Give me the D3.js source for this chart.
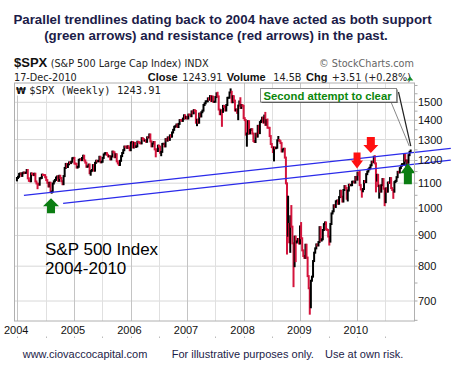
<!DOCTYPE html>
<html><head><meta charset="utf-8">
<script src="https://cdn.jsdelivr.net/npm/d3@7"></script>
<style>
html,body{margin:0;padding:0;background:#fff;}
svg{display:block;}
</style></head>
<body>
<svg id="chart" width="451" height="374"></svg>
<script>
// ---- DATA: weekly (Friday) closes of $SPX ----
const prevClose2003 = 1111.9;
const close2004 = [1121.9,1127.2,1139.8,1141.6,1131.1, 1142.8,1145.8,1144.1,1144.9, 1156.9,1120.6,1109.8,1108.1, 1141.8,1139.3,1134.6,1140.6,1107.3, 1098.7,1096.4,1093.6,1120.7, 1122.5,1136.5,1135.0,1134.4, 1125.4,1112.8,1101.4,1086.2,1101.7, 1064.0,1064.8,1098.6,1107.8, 1113.6,1123.9,1128.6,1110.1, 1131.5,1122.1,1108.2,1095.7,1130.2, 1166.2,1184.2,1170.3,1182.7, 1191.2,1188.0,1194.2,1210.1,1211.9];
const close2005 = [1186.2,1184.5,1167.9,1171.4, 1203.0,1205.3,1201.6,1211.4, 1222.1,1200.1,1190.2,1171.4, 1172.9,1181.2,1142.6,1152.1,1156.9, 1178.8,1154.0,1189.3,1198.8, 1196.0,1198.1,1217.0,1191.6, 1194.4,1211.9,1227.9,1233.7,1234.2, 1226.4,1219.0,1219.7,1205.1, 1218.3,1241.5,1237.9,1215.3,1228.8, 1195.9,1186.6,1179.6,1198.4, 1220.1,1234.7,1248.3,1265.6, 1265.1,1259.4,1267.3,1259.9,1248.3];
const close2006 = [1285.5,1287.6,1261.5,1283.7, 1264.0,1267.0,1289.4,1287.2, 1282.6,1281.4,1307.3,1303.0,1294.9, 1295.5,1289.1,1311.3,1310.6, 1325.8,1291.2,1267.0,1280.2, 1288.2,1252.3,1251.5,1244.5,1270.2, 1265.5,1236.2,1240.3,1278.6, 1279.4,1266.7,1302.3,1295.1, 1311.0,1298.9,1321.2,1314.8,1335.9, 1349.6,1365.6,1368.6,1377.3, 1364.3,1380.9,1401.2,1400.6, 1396.7,1409.1,1427.1,1410.8,1418.3];
const close2007 = [1409.7,1430.7,1430.5,1422.2, 1448.4,1438.1,1455.5,1451.2, 1387.2,1402.8,1387.0,1436.1,1420.9, 1443.8,1452.9,1484.4,1494.1, 1505.6,1505.9,1522.8,1515.7, 1536.3,1507.7,1532.9,1502.6,1503.4, 1530.4,1552.5,1534.1,1459.0, 1433.1,1453.6,1445.9,1479.4,1474.0, 1453.6,1484.3,1525.8,1526.8, 1557.6,1561.8,1500.6,1535.3, 1509.7,1453.7,1458.7,1440.7,1481.1, 1504.7,1468.0,1484.5,1478.5];
const close2008 = [1411.6,1401.0,1325.2,1330.6, 1395.4,1331.3,1349.0,1353.1,1330.6, 1293.4,1288.1,1329.5,1315.2, 1370.4,1332.8,1390.3,1397.8, 1413.9,1388.3,1425.4,1375.9,1400.4, 1360.7,1360.0,1317.9,1278.4, 1262.9,1239.5,1260.7,1257.8, 1260.3,1296.3,1298.2,1292.2,1282.8, 1242.3,1251.7,1255.1,1213.3, 1099.2,899.2,940.6,876.8,968.8, 931.0,873.3,800.0,896.2, 876.1,879.7,887.9,872.8];
const close2009 = [931.8,890.4,850.1,832.0,825.9, 868.6,826.8,770.1,735.1, 683.4,756.6,768.5,815.9, 842.5,856.6,869.6,866.2, 877.5,929.2,882.9,887.0,919.1, 940.1,946.2,921.2,918.9, 896.4,879.1,940.4,979.3,987.5, 1010.5,1004.1,1026.1,1028.9, 1016.4,1042.7,1068.3,1044.4, 1025.2,1071.5,1087.7,1079.6,1036.2, 1069.3,1093.5,1091.4,1091.5, 1106.0,1106.4,1102.5,1126.5];
const close2010 = [1115.1,1145.0,1136.0,1091.8,1073.9, 1066.2,1075.5,1109.2,1104.5, 1138.7,1150.0,1159.9,1166.6, 1178.1,1194.4,1192.1,1217.3,1186.7, 1110.9,1135.7,1087.7,1089.4, 1064.9,1091.6,1117.5,1076.8, 1022.6,1078.0,1064.9,1102.7,1101.6, 1121.6,1079.3,1071.7,1064.6, 1104.5,1109.6,1125.6,1148.7, 1146.2,1165.2,1176.2,1183.1,1183.3, 1225.9,1199.2,1199.7,1189.4, 1224.7,1240.4,1243.9];

// intraweek extremes that stick out beyond the open/close range
const wickLows = [["2004-05-14",1079.0],["2004-08-13",1060.7],["2005-04-22",1136.2],["2006-06-16",1219.3],["2006-07-21",1224.5],
  ["2007-03-09",1374.0],["2007-08-17",1370.6],["2007-11-30",1406.1],["2008-01-25",1270.1],["2008-03-20",1257.0],
  ["2008-07-18",1200.4],["2008-10-10",839.8],["2008-10-31",845.3],["2008-11-21",741.0],["2008-12-05",815.7],
  ["2009-03-06",666.8],["2009-07-10",869.3],["2009-11-06",1029.4],["2010-02-05",1044.5],["2010-05-07",1065.8],
  ["2010-05-28",1040.8],["2010-07-02",1010.9],["2010-08-27",1039.7],["2010-11-19",1173.0]];
const wickHighs = [["2007-07-20",1555.9],["2007-10-12",1576.1],["2007-12-14",1523.6],["2008-05-23",1440.2],["2008-06-06",1404.1],
  ["2008-08-15",1313.2],["2008-10-17",1044.3],["2008-11-07",1007.5],["2009-01-09",943.9],["2010-01-22",1150.5],
  ["2010-04-30",1219.8],["2010-11-05",1227.1],["2010-12-17",1246.7]];

const yTickValues = [700,800,900,1000,1100,1200,1300,1400,1500];
const yearLabels = ["2004","2005","2006","2007","2008","2009","2010"];

// drawn annotations (date, value)
const trendlines = [
  {from:["2004-02-12",1050], to:["2011-08-29",1257]},
  {from:["2004-10-22",1018], to:["2011-08-29",1202]}
];
const greenArrows = [{tip:["2004-08-05",1038], hw:16, hh:8, sw:8, sh:7},
                     {tip:["2010-11-25",1187], hw:15, hh:10, sw:8, sh:11}];
const redArrows = [{tip:["2010-01-01",1164], hw:12, hh:8, sw:7, sh:8},
                   {tip:["2010-03-31",1235], hw:15, hh:8, sw:8, sh:8}];
const calloutTarget = ["2010-12-17",1268];

// ---- CHART ----
const svg = d3.select("#chart");
const parse = d3.timeParse("%Y-%m-%d");
const fmt = d3.timeFormat("%Y-%m-%d");
const SANS = "'Liberation Sans', Arial, sans-serif";
const DV = "'DejaVu Sans', Verdana, sans-serif";

const plot = {left:14.5, right:414.5, top:83, bottom:321};
const x = d3.scaleTime().domain([new Date(2004,0,1), new Date(2011,0,1)]).range([17.4, 413.6]);
const y = d3.scaleLog().domain([700,1500]).range([301,102.3]);

const closes = [].concat(close2004, close2005, close2006, close2007, close2008, close2009, close2010);
const fridays = d3.timeFriday.range(new Date(2004,0,1), new Date(2010,11,18));
const lowMap = new Map(wickLows), highMap = new Map(wickHighs);
const bars = closes.map((c,i) => {
  const p = i ? closes[i-1] : prevClose2003;
  const key = fmt(fridays[i]);
  let hi = Math.max(p,c), lo = Math.min(p,c);
  if (highMap.has(key)) hi = Math.max(hi, highMap.get(key));
  if (lowMap.has(key)) lo = Math.min(lo, lowMap.get(key));
  return {date: d3.timeDay.offset(fridays[i], -4), hi, lo, up: c >= p};
});

// Title
const title = svg.append("g").attr("font-family", SANS).attr("font-weight","bold").attr("font-size",13.3).attr("fill","#1c1c48").attr("text-anchor","middle");
title.append("text").attr("x",222.5).attr("y",24).text("Parallel trendlines dating back to 2004 have acted as both support");
title.append("text").attr("x",216).attr("y",39.5).text("(green arrows) and resistance (red arrows) in the past.");

// Header
svg.append("text").attr("x",14).attr("y",67).attr("font-family",SANS).attr("font-weight","bold").attr("font-size",13).attr("fill","#111").text("$SPX");
svg.append("text").attr("x",50.7).attr("y",66.5).attr("font-family",DV).attr("font-size",9.7).attr("fill","#222").text("(S&P 500 Large Cap Index) INDX");
svg.append("text").attr("x",414).attr("y",66.5).attr("text-anchor","end").attr("font-family",DV).attr("font-size",9.7).attr("fill","#666").text("\u00A9 StockCharts.com");
svg.append("text").attr("x",14).attr("y",81).attr("font-family",DV).attr("font-size",9.7).attr("fill","#222").text("17-Dec-2010");
const hdr = [["Close",147.7,true],["1243.91",182.3,false],["Volume",226.7,true],["14.5B",273.3,false],["Chg",306,true],["+3.51 (+0.28%)",331.7,false]];
hdr.forEach(([t,xx,b]) => {
  svg.append("text").attr("x",xx).attr("y",81)
    .attr("font-family", b ? SANS : DV).attr("font-weight", b ? "bold" : "normal")
    .attr("font-size", b ? 11 : 9.7).attr("fill", b ? "#111" : "#222").text(t);
});
svg.append("path").attr("d","M406.7,80.5 L410,76.5 L413.3,80.5 Z").attr("fill","#1a8a2a");

// Grid
const g = svg.append("g");
g.selectAll("line.hg").data(yTickValues).join("line")
  .attr("x1",plot.left).attr("x2",plot.right).attr("y1",d=>y(d)).attr("y2",d=>y(d))
  .attr("stroke","#d8d8d8").attr("stroke-width",1);
const halfYears = d3.timeMonth.every(6).range(new Date(2004,0,1), new Date(2011,0,1));
g.selectAll("line.vg").data(halfYears).join("line")
  .attr("x1",d=>Math.round(x(d))+0.5).attr("x2",d=>Math.round(x(d))+0.5).attr("y1",plot.top).attr("y2",plot.bottom)
  .attr("stroke",d=>d.getMonth()===0 ? "#c4c4c4" : "#e0e0e0").attr("stroke-width",1);
// tiny marks below axis
g.selectAll("line.vm").data(halfYears).join("line")
  .attr("x1",d=>Math.round(x(d))+0.5).attr("x2",d=>Math.round(x(d))+0.5).attr("y1",336.5).attr("y2",338)
  .attr("stroke","#bbb");

// weekly label band
svg.append("rect").attr("x",plot.left+0.5).attr("y",plot.top+0.5).attr("width",148).attr("height",12).attr("fill","#fff");
svg.append("text").attr("x",16).attr("y",93.5).attr("font-family",DV).attr("font-weight","bold").attr("font-size",9).attr("fill","#111").text("\u20A9");
svg.append("text").attr("x",29.3).attr("y",93.5).attr("font-family","'DejaVu Sans Mono', monospace").attr("font-size",10.4).attr("fill","#222").text("$SPX (Weekly) 1243.91");

// Bars
svg.append("g").selectAll("line").data(bars).join("line")
  .attr("x1",d=>x(d.date)).attr("x2",d=>x(d.date))
  .attr("y1",d=>y(d.hi)).attr("y2",d=>y(d.lo))
  .attr("stroke",d=>d.up ? "#000" : "#d4143c")
  .attr("stroke-width",2).attr("stroke-linecap","square");

// Trendlines
svg.append("g").selectAll("line").data(trendlines).join("line")
  .attr("x1",d=>x(parse(d.from[0]))).attr("y1",d=>y(d.from[1]))
  .attr("x2",d=>x(parse(d.to[0]))).attr("y2",d=>y(d.to[1]))
  .attr("stroke","#2b2bea").attr("stroke-width",1.3);

// Arrows
function arrowPath(a, dir) {
  const tx = x(parse(a.tip[0])), ty = y(a.tip[1]);
  const s = dir; // +1 up-pointing (body below), -1 down-pointing (body above)
  return `M${tx},${ty} L${tx+a.hw/2},${ty+s*a.hh} L${tx+a.sw/2},${ty+s*a.hh} L${tx+a.sw/2},${ty+s*(a.hh+a.sh)} L${tx-a.sw/2},${ty+s*(a.hh+a.sh)} L${tx-a.sw/2},${ty+s*a.hh} L${tx-a.hw/2},${ty+s*a.hh} Z`;
}
svg.append("g").selectAll("path").data(greenArrows).join("path").attr("d",d=>arrowPath(d,1)).attr("fill","#0b7d12");
svg.append("g").selectAll("path").data(redArrows).join("path").attr("d",d=>arrowPath(d,-1)).attr("fill","#ff1010");

// Border
svg.append("rect").attr("x",plot.left).attr("y",plot.top).attr("width",plot.right-plot.left).attr("height",plot.bottom-plot.top)
  .attr("fill","none").attr("stroke","#b0b0b0").attr("stroke-width",1);

// right axis ticks
const minor = d3.range(650, 1601, 50).filter(v => y(v) > plot.top && y(v) < plot.bottom);
svg.append("g").selectAll("line").data(minor).join("line")
  .attr("x1",plot.right).attr("x2",plot.right+3).attr("y1",d=>y(d)).attr("y2",d=>y(d)).attr("stroke","#aaa");

// Axis labels
svg.append("g").selectAll("text").data(yTickValues).join("text")
  .attr("x",418).attr("y",d=>y(d)+4).attr("font-family",SANS).attr("font-size",11).attr("fill","#111").text(d=>d);
svg.append("g").selectAll("text").data(yearLabels).join("text")
  .attr("x",d=>x(parse(d+"-01-01"))-1.2).attr("y",333.5).attr("text-anchor","middle")
  .attr("font-family",SANS).attr("font-size",11).attr("fill","#111").text(d=>d);

// Callout
const tX = x(parse(calloutTarget[0])), tY = y(calloutTarget[1]);
svg.append("line").attr("x1",391).attr("y1",102).attr("x2",tX-2).attr("y2",tY).attr("stroke","#888").attr("stroke-width",1);
svg.append("line").attr("x1",398.5).attr("y1",92).attr("x2",tX-0.5).attr("y2",tY).attr("stroke","#222").attr("stroke-width",1.2);
svg.append("rect").attr("x",261.5).attr("y",89.5).attr("width",136).attr("height",13.5).attr("fill","#333");
svg.append("rect").attr("x",260.5).attr("y",88.5).attr("width",136).attr("height",13.5).attr("fill","#fff").attr("stroke","#888");
svg.append("text").attr("x",263.5).attr("y",99.5).attr("font-family",SANS).attr("font-weight","bold").attr("font-size",11.3).attr("fill","#0b870b").text("Second attempt to clear");

// Big label
const lab = svg.append("g").attr("font-family",SANS).attr("font-size",17).attr("fill","#000");
lab.append("text").attr("x",45).attr("y",254.5).text("S&P 500 Index");
lab.append("text").attr("x",45).attr("y",274).text("2004-2010");

// Footer
const ft = svg.append("g").attr("font-family",SANS).attr("font-size",11).attr("fill","#1c1c48");
ft.append("text").attr("x",22.7).attr("y",358).text("www.ciovaccocapital.com");
ft.append("text").attr("x",171.7).attr("y",358).text("For illustrative purposes only.");
ft.append("text").attr("x",325).attr("y",358).text("Use at own risk.");
</script>
</body></html>
